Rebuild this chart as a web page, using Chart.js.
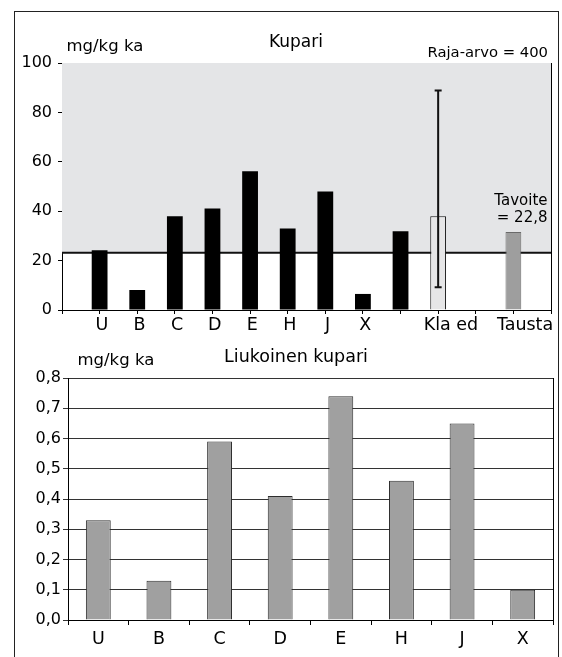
<!DOCTYPE html>
<html>
<head>
<meta charset="utf-8">
<script src="https://cdn.jsdelivr.net/npm/chart.js@4.4.1/dist/chart.umd.min.js"></script>
<style>
  body { margin: 0; background: #fff; }
  #kehys { position: absolute; left: 14px; top: 11px; width: 543px; height: 700px; border: 1px solid #222; }
  canvas { position: absolute; left: 0; }
  #kupari { top: 0; }
  #liukoinen { top: 340px; }
</style>
</head>
<body>
<div id="kehys"></div>
<canvas id="kupari" width="562" height="340"></canvas>
<canvas id="liukoinen" width="562" height="317"></canvas>
<script>
// Kupari, mg/kg ka
const kupariLuokat = ["", "U", "B", "C", "D", "E", "H", "J", "X", "", "Kla ed", "", "Tausta", ""];
const kupariArvot = [null, 24.2, 8.1, 38, 41.1, 56.2, 33, 48, 6.5, 31.9, 38, null, 31.6, null];
const klaEdVirhe = [9.2, 88.9];
const tavoiteTaso = 23.2;
const kupariTicks = [0, 20, 40, 60, 80, 100];

// Liukoinen kupari, mg/kg ka
const liukLuokat = ["U", "B", "C", "D", "E", "H", "J", "X"];
const liukArvot = [0.33, 0.13, 0.59, 0.41, 0.74, 0.46, 0.65, 0.10];
const liukTicks = [0, 0.1, 0.2, 0.3, 0.4, 0.5, 0.6, 0.7, 0.8];

const FONT = '"DejaVu Sans", sans-serif';
Chart.defaults.font.family = FONT;
Chart.defaults.color = "#000";

function tekstit(rivit) {
  return {
    id: "tekstit",
    afterDraw(chart) {
      const c = chart.ctx;
      c.save();
      c.fillStyle = "#000";
      c.textBaseline = "alphabetic";
      rivit.forEach(r => {
        c.font = r.koko + "px " + FONT;
        c.textAlign = r.align;
        c.fillText(r.teksti, r.x, r.y);
      });
      c.restore();
    }
  };
}

// x-akselin tekstit kupari-kuvaan; pitkät nimet siirtyvät oikealle kuten alkuperäisessä
const siirto = { "Kla ed": 0.34, "Tausta": 0.31 };
const kupariXTekstit = {
  id: "kupariXTekstit",
  afterDraw(chart) {
    const x = chart.scales.x;
    const c = chart.ctx;
    c.save();
    c.fillStyle = "#000";
    c.font = "17.5px " + FONT;
    c.textAlign = "center";
    c.textBaseline = "alphabetic";
    kupariLuokat.forEach((l, i) => {
      if (!l) return;
      c.fillText(l, x.getPixelForValue(i + (siirto[l] ?? 0.06)), x.top + 19.5);
    });
    c.restore();
  }
};

const virhepalkki = {
  id: "virhepalkki",
  afterDatasetsDraw(chart) {
    const i = kupariLuokat.indexOf("Kla ed");
    const bar = chart.getDatasetMeta(1).data[i];
    const y = chart.scales.y;
    const ylä = y.getPixelForValue(klaEdVirhe[1]);
    const ala = y.getPixelForValue(klaEdVirhe[0]);
    const c = chart.ctx;
    c.save();
    c.strokeStyle = "#111";
    c.lineWidth = 2;
    c.beginPath();
    c.moveTo(bar.x, ylä); c.lineTo(bar.x, ala);
    c.moveTo(bar.x - 3.5, ylä); c.lineTo(bar.x + 3.5, ylä);
    c.moveTo(bar.x - 3.5, ala); c.lineTo(bar.x + 3.5, ala);
    c.stroke();
    c.restore();
  }
};

function palkinVari(ctx) {
  const l = kupariLuokat[ctx.dataIndex];
  if (l === "Kla ed") return "#e6e6e7";
  if (l === "Tausta") return "#9e9e9e";
  return "#000";
}
function palkinReuna(ctx) {
  const l = kupariLuokat[ctx.dataIndex];
  if (l === "Kla ed") return "#111";
  if (l === "Tausta") return "#6a6a6a";
  return "#000";
}

new Chart(document.getElementById("kupari"), {
  type: "bar",
  data: {
    labels: kupariLuokat,
    datasets: [
      {
        type: "line",
        label: "Tavoite",
        data: kupariLuokat.map(() => tavoiteTaso),
        xAxisID: "x", yAxisID: "y",
        borderColor: "#111",
        borderWidth: 2,
        backgroundColor: "#e4e5e7",
        fill: "end",
        pointRadius: 0,
        order: 2
      },
      {
        label: "Kupari",
        data: kupariArvot,
        xAxisID: "x", yAxisID: "y",
        backgroundColor: palkinVari,
        borderColor: palkinReuna,
        borderWidth: ctx => (["Kla ed", "Tausta"].includes(kupariLuokat[ctx.dataIndex]) ? 1 : 0),
        categoryPercentage: 1,
        barPercentage: 0.42,
        order: 1
      }
    ]
  },
  options: {
    responsive: false,
    animation: false,
    layout: { padding: { top: 63, left: 0, right: 0, bottom: 0 } },
    plugins: { legend: { display: false }, tooltip: { enabled: false } },
    scales: {
      x: {
        type: "category",
        offset: false,
        z: 1,
        grid: { offset: false, drawOnChartArea: false, drawTicks: true, tickLength: 4, color: "#000" },
        border: { color: "#000", width: 1 },
        ticks: { display: false },
        afterFit: s => { s.height = 30; }
      },
      y: {
        type: "linear",
        position: "left",
        min: 0, max: 100,
        z: 1,
        grid: { drawOnChartArea: false, drawTicks: true, tickLength: 4, color: "#000" },
        border: { color: "#000", width: 1 },
        ticks: { font: { size: 16 }, padding: 6, color: "#000" },
        afterBuildTicks: s => { s.ticks = kupariTicks.map(v => ({ value: v })); },
        afterFit: s => { s.width = 62; }
      },
      y2: {
        type: "linear",
        position: "right",
        min: 0, max: 100,
        z: 1,
        grid: { drawOnChartArea: false, drawTicks: false },
        border: { color: "#000", width: 1 },
        ticks: { display: false },
        afterFit: s => { s.width = 11; }
      }
    }
  },
  plugins: [virhepalkki, kupariXTekstit, tekstit([
    { teksti: "mg/kg ka", koko: 16.5, align: "left", x: 66.5, y: 51 },
    { teksti: "Kupari", koko: 17, align: "center", x: 296, y: 47 },
    { teksti: "Raja-arvo = 400", koko: 14.8, align: "right", x: 548, y: 57 },
    { teksti: "Tavoite", koko: 15, align: "right", x: 547.5, y: 205 },
    { teksti: "= 22,8", koko: 15, align: "right", x: 547.5, y: 221.5 }
  ])]
});

new Chart(document.getElementById("liukoinen"), {
  type: "bar",
  data: {
    labels: liukLuokat,
    datasets: [{
      label: "Liukoinen kupari",
      data: liukArvot,
      backgroundColor: "#a0a0a0",
      borderColor: "#2e2e2e",
      borderWidth: 1,
      categoryPercentage: 1,
      barPercentage: 0.41
    }]
  },
  options: {
    responsive: false,
    animation: false,
    layout: { padding: { top: 38, left: 0, right: 0, bottom: 0 } },
    plugins: { legend: { display: false }, tooltip: { enabled: false } },
    scales: {
      x: {
        offset: true,
        grid: { offset: true, drawOnChartArea: false, drawTicks: true, tickLength: 5, color: "#000" },
        border: { color: "#000", width: 1 },
        ticks: { font: { size: 17.5 }, color: "#000", padding: 4, maxRotation: 0 },
        afterFit: s => { s.height = 37; }
      },
      y: {
        min: 0, max: 0.8,
        grid: { color: "#333", drawTicks: true, tickLength: 5 },
        border: { color: "#000", width: 1 },
        ticks: {
          font: { size: 16 },
          padding: 2,
          color: "#000",
          callback: v => v.toFixed(1).replace(".", ",")
        },
        afterBuildTicks: s => { s.ticks = liukTicks.map(v => ({ value: v })); },
        afterFit: s => { s.width = 68; }
      },
      y2: {
        type: "linear",
        position: "right",
        min: 0, max: 0.8,
        grid: { drawOnChartArea: false, drawTicks: false },
        border: { color: "#000", width: 1 },
        ticks: { display: false },
        afterFit: s => { s.width = 9; }
      }
    }
  },
  plugins: [tekstit([
    { teksti: "mg/kg ka", koko: 16.5, align: "left", x: 77.5, y: 25 },
    { teksti: "Liukoinen kupari", koko: 17.5, align: "center", x: 296, y: 22.3 }
  ])]
});
</script>
</body>
</html>
